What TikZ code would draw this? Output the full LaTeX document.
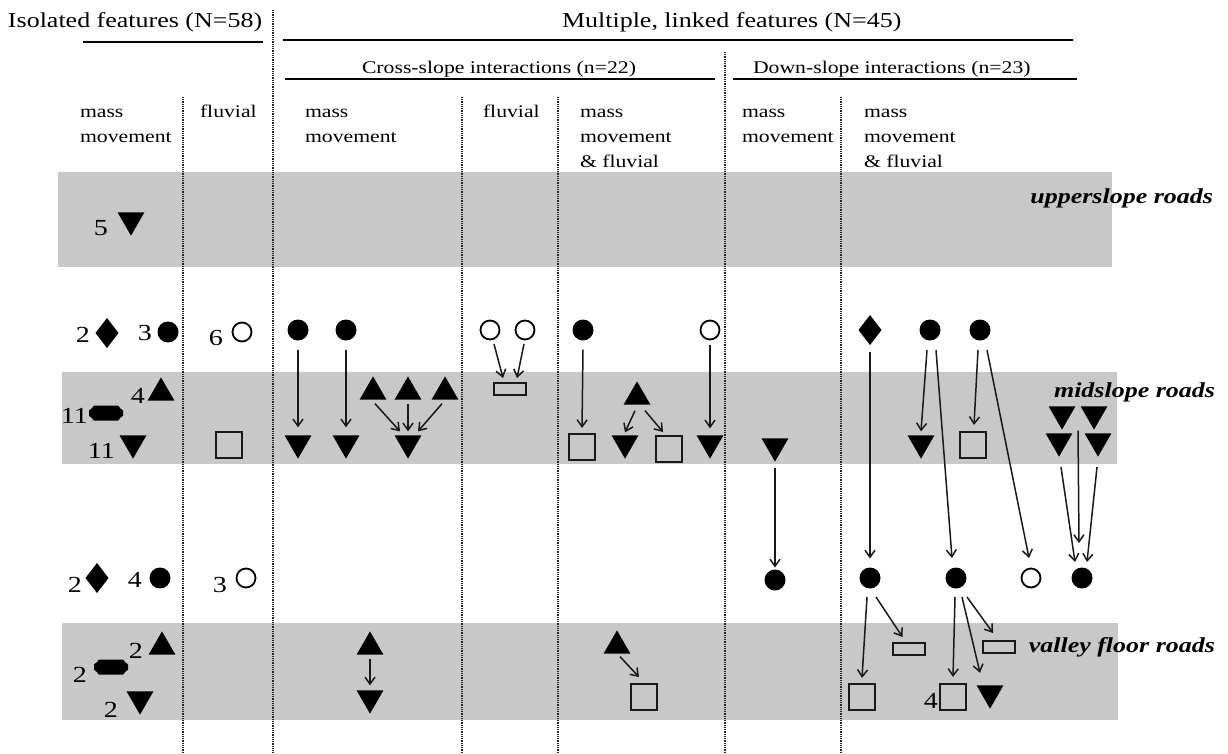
\documentclass[tikz,border=0pt]{standalone}
\usepackage{fontspec}
\setmainfont{Liberation Serif}[FakeStretch=1.22]
\usetikzlibrary{shapes.geometric,arrows.meta,calc}
\definecolor{bandgray}{RGB}{200,200,200}
\begin{document}
\begin{tikzpicture}[x=1pt,y=-1pt,
  every node/.style={inner sep=0pt, outer sep=0pt},
  title/.style={font=\fontsize{21.3}{25}\selectfont, anchor=base west},
  sub/.style={font=\fontsize{17.8}{22}\selectfont, anchor=base west},
  col/.style={font=\fontsize{17.8}{22}\selectfont, anchor=base west},
  road/.style={font=\fontsize{21.3}{25}\selectfont\bfseries\itshape, anchor=base east},
  num/.style={font=\fontsize{23}{26}\selectfont, anchor=base east},
  fc/.style={circle, fill=black, minimum size=21pt},
  oc/.style={circle, draw=black, line width=1.8pt, minimum size=19pt},
  td/.style={regular polygon, regular polygon sides=3, shape border rotate=180, fill=black, minimum size=31pt, yshift=3.9pt},
  tu/.style={regular polygon, regular polygon sides=3, fill=black, minimum size=31pt, yshift=-3.9pt},
  dia/.style={diamond, fill=black, minimum width=23pt, minimum height=30pt},
  sq/.style={rectangle, draw=black!90, line width=2.2pt, minimum size=26pt},
  rc/.style={rectangle, draw=black!90, line width=2.2pt, minimum width=32pt, minimum height=12pt},
  bar/.style={rectangle, minimum width=35pt, minimum height=16pt,
    path picture={\fill[black, rounded corners=1.5pt]
      ($(path picture bounding box.center)+(-17,-4)$) -- ++(3.5,0) -- ++(0,-3.5) -- ++(27,0) -- ++(0,3.5) -- ++(3.5,0)
      -- ++(0,8) -- ++(-3.5,0) -- ++(0,3.5) -- ++(-27,0) -- ++(0,-3.5) -- ++(-3.5,0) -- cycle;}},
  band/.style={fill=bandgray},
  divider/.style={line width=2pt, dash pattern=on 1pt off 0.8pt, black!85},
  rule/.style={line width=1.6pt},
  arr/.style={line width=1.5pt, black!90, -{Straight Barb[length=7pt,width=10pt,line width=1.5pt]}}
]
\useasboundingbox (0,0) rectangle (1228,753);
\fill[white] (0,0) rectangle (1228,753);
% bands
\fill[band] (58,172) rectangle (1112,267);
\fill[band] (62,372) rectangle (1117,464);
\fill[band] (62,623) rectangle (1118,720);
% dividers
\draw[divider] (273,10) -- (273,753);
\draw[divider] (725,52) -- (725,753);
\draw[divider] (183,97) -- (183,753);
\draw[divider] (462,97) -- (462,753);
\draw[divider] (558,97) -- (558,753);
\draw[divider] (841,97) -- (841,753);
% headers
\node[title] (hiso) at (8,27) {Isolated features (N=58)};
\node[title] (hmul) at (562,27) {Multiple, linked features (N=45)};
\draw[rule] (83,42) -- (263,42);
\draw[rule] (283,40) -- (1073,40);
\node[sub] (hcross) at (362,73) {Cross-slope interactions (n=22)};
\node[sub] (hdown) at (753,73) {Down-slope interactions (n=23)};
\draw[rule] (285,79) -- (715,79);
\draw[rule] (733,79) -- (1077,79);
% column labels
\node[col] (l1a) at (80,117) {mass};
\node[col] (l1b) at (80,142) {movement};
\node[col] (l2a) at (200,117) {fluvial};
\node[col] (l3a) at (305,117) {mass};
\node[col] (l3b) at (305,142) {movement};
\node[col] (l4a) at (483,117) {fluvial};
\node[col] (l5a) at (580,117) {mass};
\node[col] (l5b) at (580,142) {movement};
\node[col] (l5c) at (580,167) {\& fluvial};
\node[col] (l6a) at (742,117) {mass};
\node[col] (l6b) at (742,142) {movement};
\node[col] (l7a) at (864,117) {mass};
\node[col] (l7b) at (864,142) {movement};
\node[col] (l7c) at (864,167) {\& fluvial};
% road labels
\node[road] (ru) at (1213,203) {upperslope roads};
\node[road] (rm) at (1215,397) {midslope roads};
\node[road] (rv) at (1215,652) {valley floor roads};
% isolated mass movement
\node[td] (iT1) at (131,224) {};
\node[num] (n1) at (108,235) {5};
\node[dia] (iD1) at (107,333) {};
\node[num] (n2) at (90,342) {2};
\node[fc] (iC1) at (168,332) {};
\node[num] (n3) at (152,340) {3};
\node[tu] (iU1) at (161,389) {};
\node[num] (n4) at (145,403) {4};
\node[bar] (iB1) at (106,413) {};
\node[num] (n5) at (88,423) {11};
\node[td] (iT2) at (133,447) {};
\node[num] (n6) at (115,458) {11};
\node[dia] (iD2) at (97,578) {};
\node[num] (n7) at (82,592) {2};
\node[fc] (iC2) at (160,578) {};
\node[num] (n8) at (142,587) {4};
\node[tu] (iU2) at (162,643) {};
\node[num] (n9) at (143,658) {2};
\node[bar] (iB2) at (111,667) {};
\node[num] (n10) at (87,682) {2};
\node[td] (iT3) at (140,703) {};
\node[num] (n11) at (118,717) {2};
% isolated fluvial
\node[oc] (iO1) at (242,332) {};
\node[num] (n12) at (223,345) {6};
\node[sq] (iS1) at (229,445) {};
\node[oc] (iO2) at (246,578) {};
\node[num] (n13) at (227,592) {3};
% cross-slope mass movement
\node[fc] (cm1) at (298,330) {};
\node[fc] (cm2) at (346,330) {};
\node[td] (tdA) at (298,447) {};
\node[td] (tdB) at (346,447) {};
\node[tu] (tuA) at (373,388) {};
\node[tu] (tuB) at (408,388) {};
\node[tu] (tuC) at (445,388) {};
\node[td] (tdC) at (408,447) {};
\node[tu] (tuV) at (370,643) {};
\node[td] (tdV) at (370,702) {};
% cross-slope fluvial
\node[oc] (ocA) at (490,330) {};
\node[oc] (ocB) at (525,330) {};
\node[rc] (r1) at (510,389) {};
% cross-slope mass & fluvial
\node[fc] (cmf1) at (583,330) {};
\node[sq] (sqA) at (582,447) {};
\node[tu] (tuD) at (637,393) {};
\node[td] (tdD) at (625,447) {};
\node[sq] (sqB) at (669,449) {};
\node[oc] (ocC) at (710,330) {};
\node[td] (tdE) at (710,447) {};
\node[tu] (tuW) at (617,642) {};
\node[sq] (sqF) at (644,697) {};
% down-slope mass movement
\node[td] (tdF) at (775,450) {};
\node[fc] (cdm) at (775,580) {};
% down-slope mass & fluvial
\node[dia] (dD) at (870,330) {};
\node[fc] (cB) at (930,330) {};
\node[fc] (cD) at (980,330) {};
\node[td] (tdG) at (921,447) {};
\node[sq] (sqC) at (973,445) {};
\node[td] (tT1) at (1062,418) {};
\node[td] (tT2) at (1094,418) {};
\node[td] (tB1) at (1059,445) {};
\node[td] (tB2) at (1098,445) {};
\node[fc] (cA) at (870,578) {};
\node[fc] (cC) at (956,578) {};
\node[oc] (ocD) at (1031,578) {};
\node[fc] (cE) at (1082,578) {};
\node[sq] (sqD) at (862,697) {};
\node[rc] (rB) at (909,649) {};
\node[sq] (sqE) at (953,697) {};
\node[num] (n14) at (938,708) {4};
\node[td] (tdH) at (990,697) {};
\node[rc] (rC) at (999,647) {};
\coordinate (tTm) at ($(tT1.south)!0.5!(tT2.south)$);
% arrows
\draw[arr] ($(cm1.south)+(0,9)$) -- ($(tdA.north)+(0,-8)$);
\draw[arr] ($(cm2.south)+(0,9)$) -- ($(tdB.north)+(0,-8)$);
\draw[arr] ($(tuA.south)+(2,4)$) -- ($(tdC.north)+(-8,-4)$);
\draw[arr] ($(tuB.south)+(0,4)$) -- ($(tdC.north)+(0,-4)$);
\draw[arr] ($(tuC.south)+(-3,4)$) -- ($(tdC.north)+(10,-4)$);
\draw[arr] ($(ocA.south)+(4,4.5)$) -- ($(r1.north)+(-7,-5)$);
\draw[arr] ($(ocB.south)+(-1,4.5)$) -- ($(r1.north)+(7,-5)$);
\draw[arr] ($(cmf1.south)+(0,9)$) -- ($(sqA.north)+(0,-6)$);
\draw[arr] ($(tuD.south)+(-2,6)$) -- ($(tdD.north)+(0,-3)$);
\draw[arr] ($(tuD.south)+(8,6)$) -- ($(sqB.north)+(-6,-4)$);
\draw[arr] ($(ocC.south)+(0,5)$) -- ($(tdE.north)+(0,-7)$);
\draw[arr] ($(tdF.south)+(0,6)$) -- ($(cdm.north)+(0,-2)$);
\draw[arr] ($(dD.south)+(0,7)$) -- ($(cA.north)+(0,-9)$);
\draw[arr] ($(cB.south)+(-3,9.5)$) -- ($(tdG.north)+(0,-4)$);
\draw[arr] ($(cB.south)+(6,9.5)$) -- ($(cC.north)+(-4,-9.5)$);
\draw[arr] ($(cD.south)+(-2,9.5)$) -- ($(sqC.north)+(1,-7)$);
\draw[arr] ($(cD.south)+(7,9.5)$) -- ($(ocD.north)+(-2,-10.5)$);
\draw[arr] ($(tTm)+(0,1)$) -- ($(cE.north)+(-3,-24.5)$);
\draw[arr] ($(tB1.south)+(2,10.5)$) -- ($(cE.north)+(-7,-5.5)$);
\draw[arr] ($(tB2.south)+(-1,10.5)$) -- ($(cE.north)+(5,-5.5)$);
\draw[arr] ($(cA.south)+(-3,8.5)$) -- ($(sqD.north)+(0,-6)$);
\draw[arr] ($(cA.south)+(6,8.5)$) -- ($(rB.north)+(-6.5,-6)$);
\draw[arr] ($(cC.south)+(-1,8.5)$) -- ($(sqE.north)+(0,-7)$);
\draw[arr] ($(cC.south)+(6,8.5)$) -- ($(tdH.north)+(-10,-12.5)$);
\draw[arr] ($(cC.south)+(11,8.5)$) -- ($(rC.north)+(-6,-8)$);
\draw[arr] ($(tuV.south)+(0,4)$) -- ($(tdV.north)+(0,-5)$);
\draw[arr] ($(tuW.south)+(3,3)$) -- ($(sqF.north)+(-5,-7)$);
\end{tikzpicture}
\end{document}
